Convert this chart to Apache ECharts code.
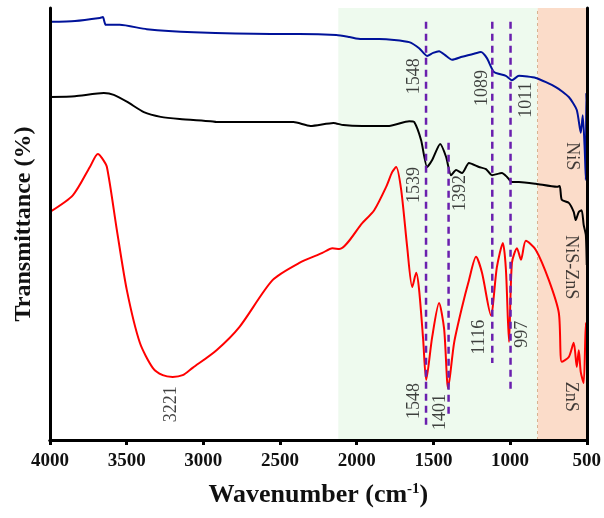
<!DOCTYPE html>
<html>
<head>
<meta charset="utf-8">
<script src="https://cdn.jsdelivr.net/npm/echarts@6/dist/echarts.min.js"></script>
<style>
html,body{margin:0;padding:0;background:#fff;}
#chart{width:604px;height:518px;}
</style>
</head>
<body>
<div id="chart"></div>
<script>
// Wavenumber (cm-1) and transmittance (arbitrary %, offset stacked)
const nisWn = [4000,3837,3675,3655,3636,3545,3369,3063,2562,2374,2133,2048,1970,1853,1756,1658,1593,1541,1502,1463,1417,1378,1313,1235,1190,1151,1105,1027,988,942,832,702,617,565,539,526,513,506,503,500];
const nisT  = [96.8,97.0,97.7,97.9,96.1,96.1,95.1,94.4,94.0,94.0,93.75,93.3,92.8,92.8,92.6,92.1,90.7,88.9,89.6,90.0,88.9,88.0,88.7,89.4,89.8,88.4,85.2,84.3,83.3,84.3,83.8,81.7,79.4,76.4,71.1,75.2,67.1,60.2,80.3,76.4];

const nizWn = [4000,3837,3649,3584,3493,3388,3278,3154,2953,2914,2627,2413,2302,2152,2087,1964,1788,1658,1625,1580,1541,1508,1456,1417,1385,1352,1313,1268,1203,1157,1118,1053,1020,988,942,832,695,676,663,617,585,572,552,533,520,506,500];
const nizT  = [79.4,79.6,80.3,79.9,78.2,75.9,74.8,74.3,73.8,73.6,73.6,73.6,72.7,73.4,72.9,72.7,72.7,73.8,73.6,69.4,63.2,64.8,68.5,65.5,61.3,62.5,61.8,64.1,63.2,62.7,61.3,61.8,60.9,59.7,59.7,59.3,58.6,58.8,55.6,54.9,52.8,50.9,52.8,53.2,49.8,47.5,40.5];

const znsWn = [4000,3850,3740,3688,3662,3629,3564,3499,3414,3330,3265,3200,3135,3070,2914,2764,2549,2374,2224,2159,2113,1964,1886,1808,1769,1743,1710,1671,1638,1612,1593,1567,1547,1508,1463,1430,1404,1365,1313,1268,1222,1183,1125,1086,1047,1027,1007,988,955,929,897,832,747,682,663,617,585,565,552,539,520,506,500];
const znsT  = [52.8,56.7,63.2,66.2,65.3,63.2,48.6,34.7,22.5,16.7,15.0,14.6,15.0,16.7,20.8,26.2,37.0,41.0,43.3,44.4,44.2,50.2,53.2,58.6,62.0,63.2,57.9,44.7,35.4,38.7,34.7,23.4,13.9,23.8,31.7,25.7,12.0,22.5,30.8,37.0,42.4,38.7,28.9,40.0,45.6,39.4,22.7,41.0,44.4,41.7,46.1,44.0,37.0,29.4,18.1,19.2,22.5,16.9,20.8,15.7,13.2,27.1,23.1];

// Dashed guide lines: wavenumber, top, bottom
const guideWn  = [1548, 1401, 1116, 997];
const guideTop = [96.8, 68.8, 96.8, 96.8];
const guideBot = [2.8, 5.1, 17.8, 11.6];

// Peak annotations
const peakText = ['1548','1089','1011','1539','1392','1116','997','1548','1401','3221'];
const peakWn   = [1625, 1183, 897, 1625, 1326, 1203, 923, 1625, 1456, 3206];
const peakT    = [84.2, 81.5, 78.7, 59.0, 57.2, 23.8, 24.5, 9.0, 6.5, 8.3];

// Sample names
const sampleText = ['NiS','NiS-ZnS','ZnS'];
const sampleWn   = [598, 604, 604];
const sampleT    = [65.7, 40.0, 10.0];

// Shaded regions
const greenRange  = [2120, 820];
const orangeRange = [820, 500];

const xTicks = [500, 4000, 500]; // min, max, interval

const zip = (a, b) => a.map((v, i) => [v, b[i]]);
const serif = 'Liberation Serif';

const series = [];
series.push({
  type: 'line', data: [], z: 1, silent: true,
  markArea: {
    silent: true,
    data: [
      [{xAxis: greenRange[0], itemStyle: {color: '#eefaee'}}, {xAxis: greenRange[1]}],
      [{xAxis: orangeRange[0], itemStyle: {color: '#fbdcc9'}}, {xAxis: orangeRange[1]}]
    ]
  },
  markLine: {
    silent: true, symbol: 'none', label: {show: false},
    lineStyle: {color: '#d8b290', type: [3, 3], width: 1},
    data: [{xAxis: orangeRange[0]}]
  }
});
series.push({type:'line', name:'NiS', data: zip(nisWn, nisT), smooth:0.2, showSymbol:false, symbol:'none', lineStyle:{color:'#00129a', width:2}, z:5});
series.push({type:'line', name:'NiS-ZnS', data: zip(nizWn, nizT), smooth:0.2, showSymbol:false, symbol:'none', lineStyle:{color:'#000000', width:2}, z:5});
series.push({type:'line', name:'ZnS', data: zip(znsWn, znsT), smooth:0.25, showSymbol:false, symbol:'none', lineStyle:{color:'#ff0000', width:2}, z:5});
guideWn.forEach((w, i) => {
  series.push({type:'line', data: [[w, guideTop[i]], [w, guideBot[i]]], symbol:'none', z:6,
    lineStyle:{color:'#6a1fae', width:2.5, type:[7,5]}});
});
series.push({
  type:'scatter', symbolSize: 1, itemStyle:{color:'rgba(0,0,0,0)'}, z:7,
  data: peakText.map((t, i) => ({name: t, value: [peakWn[i], peakT[i]]})),
  label: {show:true, position:'inside', formatter: p => p.name, rotate: 90,
    fontFamily: serif, fontSize: 18, color: '#111', align:'center', verticalAlign:'middle'}
});
series.push({
  type:'scatter', symbolSize: 1, itemStyle:{color:'rgba(0,0,0,0)'}, z:7,
  data: sampleText.map((t, i) => ({name: t, value: [sampleWn[i], sampleT[i]]})),
  label: {show:true, position:'inside', formatter: p => p.name, rotate: -90,
    fontFamily: serif, fontSize: 18, color: '#111', align:'center', verticalAlign:'middle'}
});

const chart = echarts.init(document.getElementById('chart'), null, {renderer:'canvas'});
chart.setOption({
  animation: false,
  backgroundColor: '#fff',
  grid: {left: 50, right: 16, top: 8, bottom: 78},
  xAxis: [{
    type:'value', inverse:true, min: xTicks[0], max: xTicks[1], interval: xTicks[2], z: 10,
    axisLine:{show:true, lineStyle:{color:'#000', width:3}},
    axisTick:{show:true, inside:false, length:5, lineStyle:{color:'#000', width:3}},
    axisLabel:{fontFamily: serif, fontWeight:'bold', fontSize:19, color:'#111', margin:12, formatter: v => String(v)},
    splitLine:{show:false},
    name:'Wavenumber (cm{sup|-1})', nameLocation:'middle', nameGap:42,
    nameTextStyle:{fontFamily: serif, fontWeight:'bold', fontSize:26, color:'#111',
      rich:{sup:{fontFamily: serif, fontWeight:'bold', fontSize:15, verticalAlign:'top', padding:[0,0,11,0], color:'#111'}}}
  },{
    type:'value', inverse:true, min: xTicks[0], max: xTicks[1], position:'top', z:10,
    axisLine:{show:true, lineStyle:{color:'#000', width:3}},
    axisTick:{show:false}, axisLabel:{show:false}, splitLine:{show:false}
  }],
  yAxis: [{
    type:'value', min:0, max:100, z:10,
    axisLine:{show:true, lineStyle:{color:'#000', width:3}},
    axisTick:{show:false}, axisLabel:{show:false}, splitLine:{show:false},
    name:'Transmittance (%)', nameLocation:'middle', nameGap:14,
    nameTextStyle:{fontFamily: serif, fontWeight:'bold', fontSize:24, color:'#111'}
  },{
    type:'value', min:0, max:100, position:'right', z:10,
    axisLine:{show:true, lineStyle:{color:'#000', width:3}},
    axisTick:{show:false}, axisLabel:{show:false}, splitLine:{show:false}
  }],
  series: series
});
</script>
</body>
</html>
